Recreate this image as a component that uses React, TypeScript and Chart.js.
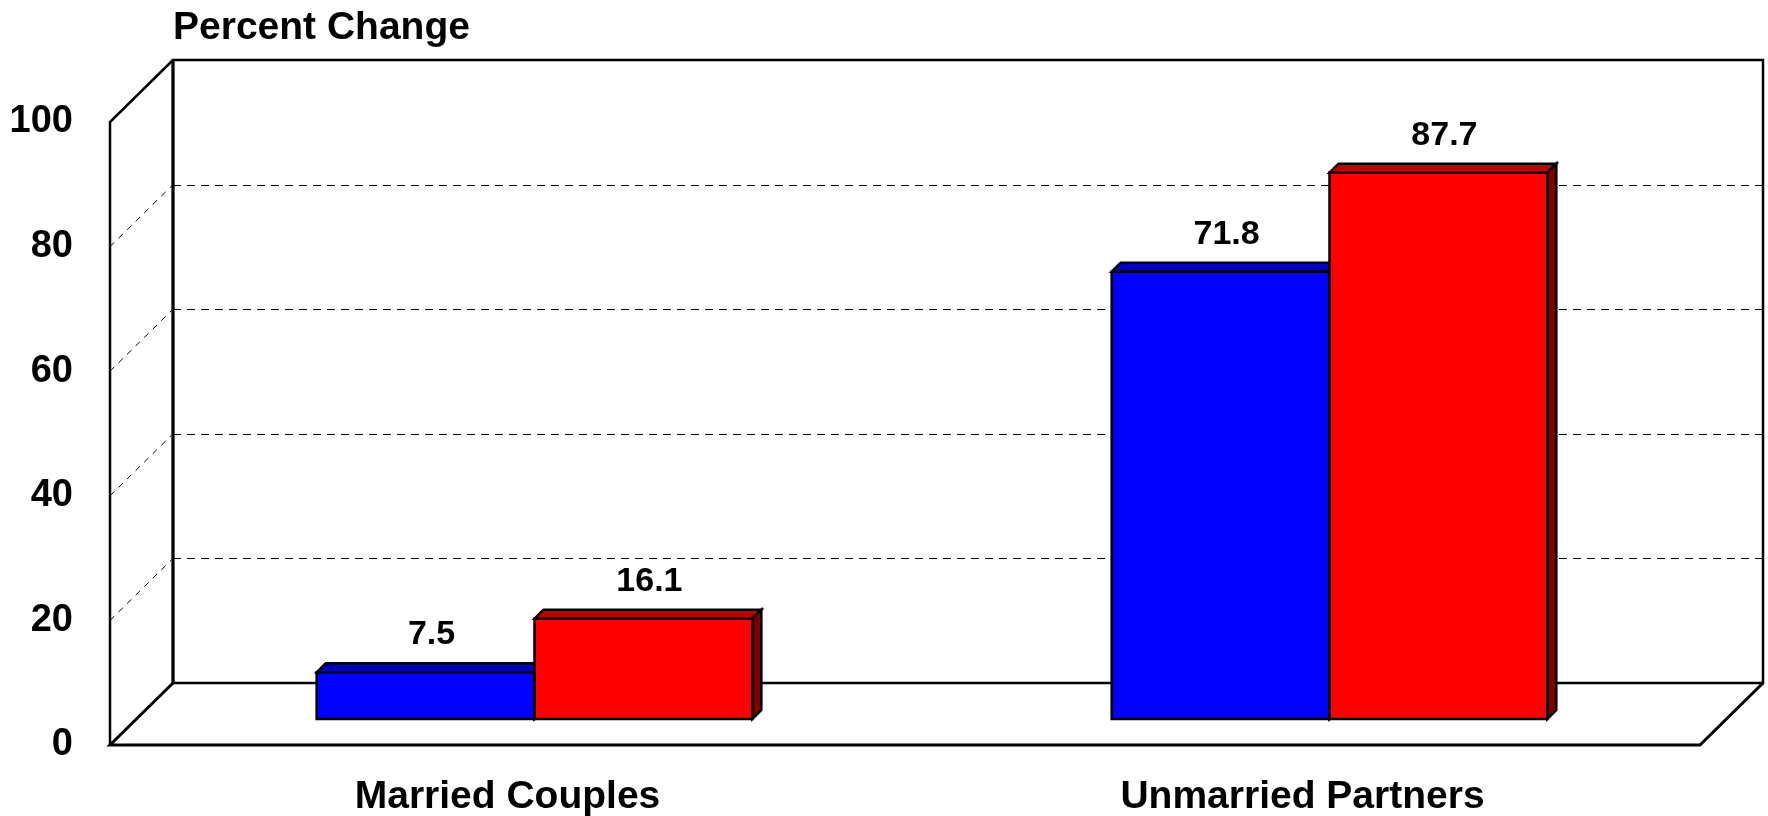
import React, { useEffect, useRef } from "react";
import { Chart, registerables } from "chart.js";

Chart.register(...registerables);

// ---- data ----
const categories = ["Married Couples", "Unmarried Partners"];
const seriesBlue = [7.5, 71.8];
const seriesRed = [16.1, 87.7];
const yTickValues = [0, 20, 40, 60, 80, 100];
const yAxisTitle = "Percent Change";

// ---- styling ----
const FONT = "'Liberation Sans', Arial, Helvetica, sans-serif";
const WALL_DX = 63;
const WALL_DY = -62;
const BAR_DX = 27;
const BAR_DY = -26;
const EXT_DX = 9;
const EXT_DY = -9;
const frontColors = ["#0000FF", "#FF0000"];
const topColors = ["#0000C0", "#C00000"];
const sideColors = ["#000080", "#800000"];

const snap = (v: number) => Math.round(v) + 0.5;

const frame3d = {
  id: "frame3d",
  beforeDatasetsDraw(chart: any) {
    const { ctx, chartArea: a, scales } = chart;
    const y = scales.y;
    const L = a.left;
    const R = a.right;
    const T = y.getPixelForValue(100);
    const B = y.getPixelForValue(0);
    ctx.save();
    // dashed gridlines on back wall and side wall
    ctx.lineWidth = 1;
    ctx.strokeStyle = "#000";
    for (const v of yTickValues) {
      if (v === 0 || v === 100) continue;
      const yf = y.getPixelForValue(v);
      const yb = snap(yf + WALL_DY);
      ctx.setLineDash([8, 6]);
      ctx.beginPath();
      ctx.moveTo(L + WALL_DX, yb);
      ctx.lineTo(R + WALL_DX, yb);
      ctx.stroke();
      ctx.setLineDash([6, 6]);
      ctx.beginPath();
      ctx.moveTo(L, yf);
      ctx.lineTo(L + WALL_DX, yf + WALL_DY);
      ctx.stroke();
    }
    ctx.setLineDash([]);
    ctx.strokeStyle = "#000";
    ctx.lineJoin = "miter";
    ctx.lineWidth = 2.5;
    // back wall
    ctx.beginPath();
    ctx.moveTo(L + WALL_DX, B + WALL_DY);
    ctx.lineTo(L + WALL_DX, T + WALL_DY);
    ctx.lineTo(R + WALL_DX, T + WALL_DY);
    ctx.lineTo(R + WALL_DX, B + WALL_DY);
    ctx.closePath();
    ctx.stroke();
    ctx.lineWidth = 3;
    ctx.beginPath();
    ctx.moveTo(L + WALL_DX, B + WALL_DY);
    ctx.lineTo(L + WALL_DX, T + WALL_DY);
    ctx.stroke();
    ctx.lineWidth = 2.5;
    // side wall
    ctx.beginPath();
    ctx.moveTo(L, B);
    ctx.lineTo(L, T);
    ctx.lineTo(L + WALL_DX, T + WALL_DY);
    ctx.stroke();
    // floor
    ctx.lineWidth = 3;
    ctx.beginPath();
    ctx.moveTo(L + WALL_DX, B + WALL_DY);
    ctx.lineTo(L, B);
    ctx.lineTo(R, B);
    ctx.lineTo(R + WALL_DX, B + WALL_DY);
    ctx.stroke();
    ctx.restore();

    // bars live in a plane partway into the depth
    ctx.save();
    ctx.translate(BAR_DX, BAR_DY);
    ctx.lineWidth = 2.5;
    ctx.strokeStyle = "#000";
    ctx.lineJoin = "miter";
    chart.data.datasets.forEach((_ds: any, i: number) => {
      const meta = chart.getDatasetMeta(i);
      meta.data.forEach((bar: any) => {
        const p = bar.getProps(["x", "y", "base", "width"], true);
        const l = p.x - p.width / 2;
        const r = p.x + p.width / 2;
        const t = p.y;
        const b = p.base;
        // top face
        ctx.fillStyle = topColors[i];
        ctx.beginPath();
        ctx.moveTo(l, t);
        ctx.lineTo(l + EXT_DX, t + EXT_DY);
        ctx.lineTo(r + EXT_DX, t + EXT_DY);
        ctx.lineTo(r, t);
        ctx.closePath();
        ctx.fill();
        ctx.stroke();
        // side face
        ctx.fillStyle = sideColors[i];
        ctx.beginPath();
        ctx.moveTo(r, t);
        ctx.lineTo(r + EXT_DX, t + EXT_DY);
        ctx.lineTo(r + EXT_DX, b + EXT_DY);
        ctx.lineTo(r, b);
        ctx.closePath();
        ctx.fill();
        ctx.stroke();
      });
    });
  },
  afterDatasetsDraw(chart: any) {
    const { ctx } = chart;
    // outlines of the front faces
    ctx.lineWidth = 2.5;
    ctx.strokeStyle = "#000";
    chart.data.datasets.forEach((_ds: any, i: number) => {
      const meta = chart.getDatasetMeta(i);
      meta.data.forEach((bar: any) => {
        const p = bar.getProps(["x", "y", "base", "width"], true);
        ctx.strokeRect(p.x - p.width / 2, p.y, p.width, p.base - p.y);
      });
    });
    ctx.font = `bold 34px ${FONT}`;
    ctx.fillStyle = "#000";
    ctx.textAlign = "center";
    ctx.textBaseline = "alphabetic";
    chart.data.datasets.forEach((ds: any, i: number) => {
      const meta = chart.getDatasetMeta(i);
      meta.data.forEach((bar: any, j: number) => {
        const p = bar.getProps(["x", "y"], true);
        ctx.fillText(Number(ds.data[j]).toFixed(1), p.x + 6, p.y + EXT_DY - 19);
      });
    });
    ctx.restore();
  },
  afterDraw(chart: any) {
    const { ctx } = chart;
    ctx.save();
    ctx.font = `bold 39px ${FONT}`;
    ctx.fillStyle = "#000";
    ctx.textAlign = "left";
    ctx.textBaseline = "alphabetic";
    ctx.fillText(yAxisTitle, 173, 39);
    ctx.restore();
  },
};

export default function App() {
  const ref = useRef<HTMLCanvasElement | null>(null);
  useEffect(() => {
    if (!ref.current) return;
    const chart = new Chart(ref.current, {
      type: "bar",
      data: {
        labels: categories,
        datasets: [
          {
            label: "Series 1",
            data: seriesBlue,
            backgroundColor: frontColors[0],
            borderWidth: 0,
            clip: false as any,
          },
          {
            label: "Series 2",
            data: seriesRed,
            backgroundColor: frontColors[1],
            borderWidth: 0,
            clip: false as any,
          },
        ],
      },
      options: {
        animation: false,
        responsive: false,
        devicePixelRatio: 1,
        categoryPercentage: 0.548,
        barPercentage: 1,
        layout: { padding: { left: 0, top: 122, right: 68, bottom: 0 } },
        plugins: {
          legend: { display: false },
          tooltip: { enabled: false },
          title: { display: false },
        },
        scales: {
          x: {
            type: "category",
            grid: { display: false, drawTicks: false },
            border: { display: false },
            ticks: {
              color: "#000",
              font: { family: FONT, size: 39, weight: "bold" },
              padding: 29,
              maxRotation: 0,
            },
            afterFit: (s: any) => {
              s.height = 71;
            },
          },
          y: {
            type: "linear",
            min: 0,
            max: 100,
            grid: { display: false, drawTicks: false },
            border: { display: false },
            ticks: {
              color: "#000",
              font: { family: FONT, size: 38, weight: "bold" },
              padding: 37,
              stepSize: 20,
            },
            afterBuildTicks: (s: any) => {
              s.ticks = yTickValues.map((v) => ({ value: v }));
            },
            afterFit: (s: any) => {
              s.width = 110;
            },
          },
        },
      } as any,
      plugins: [frame3d],
    });
    return () => chart.destroy();
  }, []);
  return (
    <div style={{ position: "fixed", left: 0, top: 0, width: 1768, height: 816, background: "#fff" }}>
      <canvas ref={ref} width={1768} height={816} style={{ display: "block" }} />
    </div>
  );
}
